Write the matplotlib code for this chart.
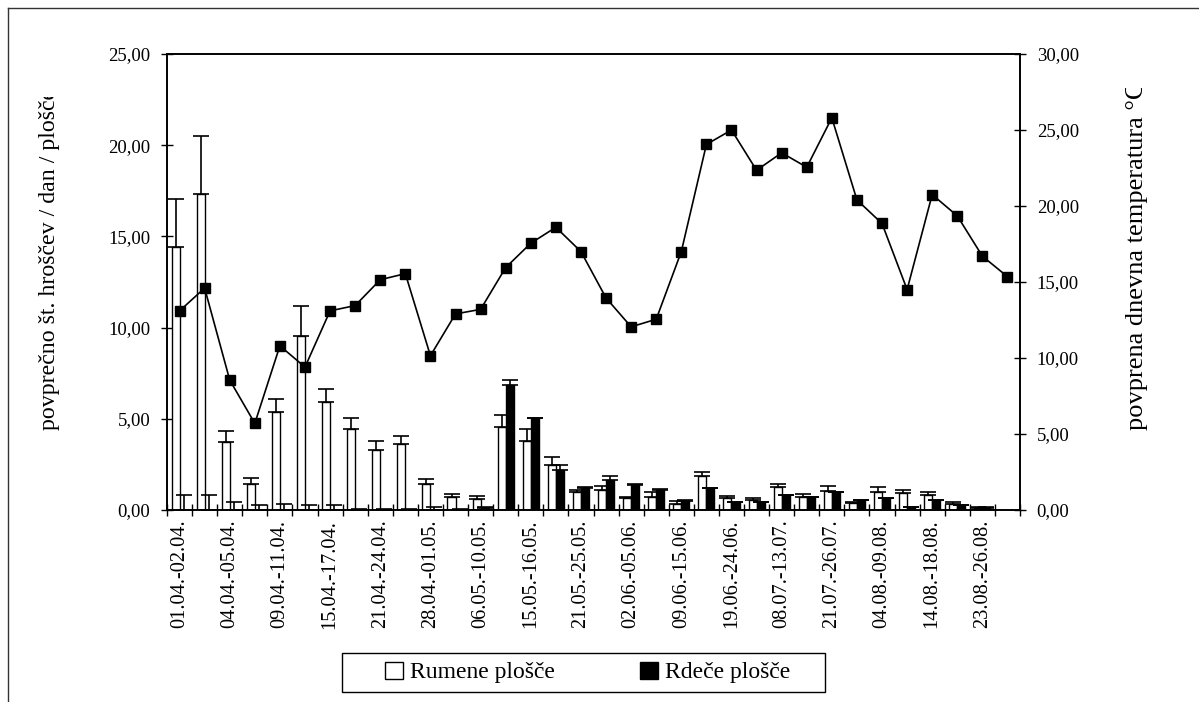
import numpy as np
import matplotlib
matplotlib.use("Agg")
import matplotlib.pyplot as plt
from matplotlib.lines import Line2D
from matplotlib.patches import Patch, Rectangle
from matplotlib.transforms import Bbox
from matplotlib.ticker import FuncFormatter, FixedLocator

plt.rcParams['font.family'] = ['Liberation Serif', 'DejaVu Serif']

# ---- data -------------------------------------------------------------
tick_labels = ["01.04.-02.04.", "04.04.-05.04.", "09.04.-11.04.", "15.04.-17.04.",
               "21.04.-24.04.", "28.04.-01.05.", "06.05.-10.05.", "15.05.-16.05.",
               "21.05.-25.05.", "02.06.-05.06.", "09.06.-15.06.", "19.06.-24.06.",
               "08.07.-13.07.", "21.07.-26.07.", "04.08.-09.08.", "14.08.-18.08.",
               "23.08.-26.08."]
n_periods = 34

rumene = [14.40, 17.35, 3.72, 1.43, 5.40, 9.56, 5.93, 4.43, 3.30, 3.64, 1.43, 0.70,
          0.62, 4.54, 3.77, 2.47, 0.98, 1.07, 0.64, 0.70, 0.33, 1.84, 0.64, 0.55,
          1.25, 0.73, 1.06, 0.37, 0.97, 0.92, 0.80, 0.33, 0.10, np.nan]
rumene_sd = [2.67, 3.15, 0.62, 0.34, 0.70, 1.61, 0.72, 0.64, 0.51, 0.44, 0.25, 0.16,
             0.17, 0.66, 0.66, 0.43, 0.14, 0.24, 0.06, 0.30, 0.18, 0.26, 0.15, 0.09,
             0.18, 0.15, 0.28, 0.05, 0.28, 0.16, 0.18, 0.09, 0.05, np.nan]
rdece = [0.02, 0.02, 0.02, 0.02, 0.02, 0.02, 0.02, 0.02, 0.02, 0.02, 0.02, 0.02,
         0.10, 6.83, 5.07, 2.21, 1.22, 1.67, 1.37, 1.12, 0.51, 1.22, 0.42, 0.46,
         0.82, 0.73, 0.99, 0.55, 0.64, 0.19, 0.57, 0.26, 0.12, np.nan]
rdece_sd = [0.82, 0.82, 0.40, 0.23, 0.31, 0.25, 0.25, 0.01, 0.01, 0.01, 0.16, 0.01,
            0.04, 0.27, 0.0, 0.26, 0.03, 0.17, 0.05, 0.03, 0.02, 0.0, 0.0, 0.0,
            0.0, 0.0, 0.0, 0.0, 0.0, 0.0, 0.0, 0.0, 0.02, np.nan]
temperatura = [13.1, 14.6, 8.55, 5.7, 10.8, 9.4, 13.1, 13.45, 15.15, 15.55, 10.15, 12.9,
               13.2, 15.95, 17.55, 18.6, 17.0, 13.95, 12.05, 12.55, 17.0, 24.05, 25.0, 22.35,
               23.5, 22.55, 25.8, 20.4, 18.85, 14.5, 20.75, 19.35, 16.7, 15.35]

series_names = ["Rumene plošče", "Rdeče plošče"]
ylabel_left = "povprečno št. hroščev / dan / plošče"
ylabel_right = "povprena dnevna temperatura °C"

# ---- figure -------------------------------------------------------------
W, H = 1199, 702
fig = plt.figure(figsize=(W / 100, H / 100), dpi=100)
L, R, T, B = 167, 1020, 54, 510
ax = fig.add_axes([L / W, 1 - B / H, (R - L) / W, (B - T) / H])

x = np.arange(n_periods) + 0.5
w = 0.32
zeros = np.zeros(n_periods)

ax.bar(x - w / 2, rumene, w, color='white', edgecolor='black', linewidth=1.0,
       yerr=[zeros, rumene_sd], error_kw=dict(ecolor='black', elinewidth=1.2,
                                                capsize=6, capthick=1.2), zorder=2)
ax.bar(x + w / 2, rdece, w, color='black', edgecolor='black', linewidth=1.0,
       yerr=[zeros, rdece_sd], error_kw=dict(ecolor='black', elinewidth=1.2,
                                               capsize=6, capthick=1.2), zorder=2)

ax.set_xlim(0, n_periods)
ax.set_ylim(0, 25)
ax.set_yticks(np.arange(0, 26, 5))
comma = FuncFormatter(lambda v, p: f"{v:.2f}".replace('.', ','))
ax.yaxis.set_major_formatter(comma)

ax.xaxis.set_major_locator(FixedLocator(np.arange(0, n_periods + 1)))
ax.xaxis.set_major_formatter(FuncFormatter(lambda v, p: ""))
ax.xaxis.set_minor_locator(FixedLocator(x[::2][:len(tick_labels)]))
ax.set_xticklabels(tick_labels, minor=True, rotation=90, fontsize=14.7)
ax.tick_params(axis='x', which='minor', length=0, pad=7)
ax.tick_params(axis='x', which='major', direction='inout', length=9, width=1)
ax.tick_params(axis='y', direction='inout', length=8, width=1, labelsize=13.5, pad=8)

ax2 = ax.twinx()
ax2.plot(x, temperatura, color='black', linewidth=1.2, marker='s', markersize=6.5,
         zorder=5)
ax2.set_ylim(0, 30)
ax2.set_yticks(np.arange(0, 31, 5))
ax2.yaxis.set_major_formatter(comma)
ax2.tick_params(axis='y', direction='inout', length=8, width=1, labelsize=13.5, pad=8)

for a in (ax, ax2):
    for s in a.spines.values():
        s.set_linewidth(1.2)
        s.set_color('black')

# axis titles (clipped at the top as in the original)
t1 = fig.text(50 / W, 1 - 430 / H, ylabel_left, rotation=90, ha='center', va='bottom',
              fontsize=17.2)
t1.set_clip_box(Bbox.from_extents(0, 0, W, H - 97))
t1.set_clip_on(True)
t2 = fig.text(1137 / W, 1 - 430 / H, ylabel_right, rotation=90, ha='center', va='bottom',
              fontsize=19)
t2.set_clip_box(Bbox.from_extents(0, 0, W, H - 88))
t2.set_clip_on(True)

# legend (wide frame drawn separately)
fig.add_artist(Rectangle((342 / W, 1 - 692 / H), (825 - 342) / W, (692 - 653) / H,
                         transform=fig.transFigure, facecolor='white', edgecolor='black',
                         linewidth=1.0, zorder=3))
handles = [Patch(facecolor='white', edgecolor='black', linewidth=1.0),
           Patch(facecolor='black', edgecolor='black', linewidth=1.0)]
leg = fig.legend(handles, series_names, loc='center', bbox_to_anchor=(587.5 / W, 1 - 672.5 / H),
                 ncol=2, frameon=False, fontsize=17,
                 handlelength=0.75, handleheight=0.75, handletextpad=0.3, columnspacing=3.6,
                 borderpad=0.3)
leg.set_zorder(4)

# outer chart border (top and left)
fig.add_artist(Line2D([8 / W, 1], [1 - 8 / H, 1 - 8 / H], transform=fig.transFigure,
                      color='#333333', linewidth=1))
fig.add_artist(Line2D([8 / W, 8 / W], [0, 1 - 8 / H], transform=fig.transFigure,
                      color='#333333', linewidth=1))

fig.savefig("out.png", dpi=100)
